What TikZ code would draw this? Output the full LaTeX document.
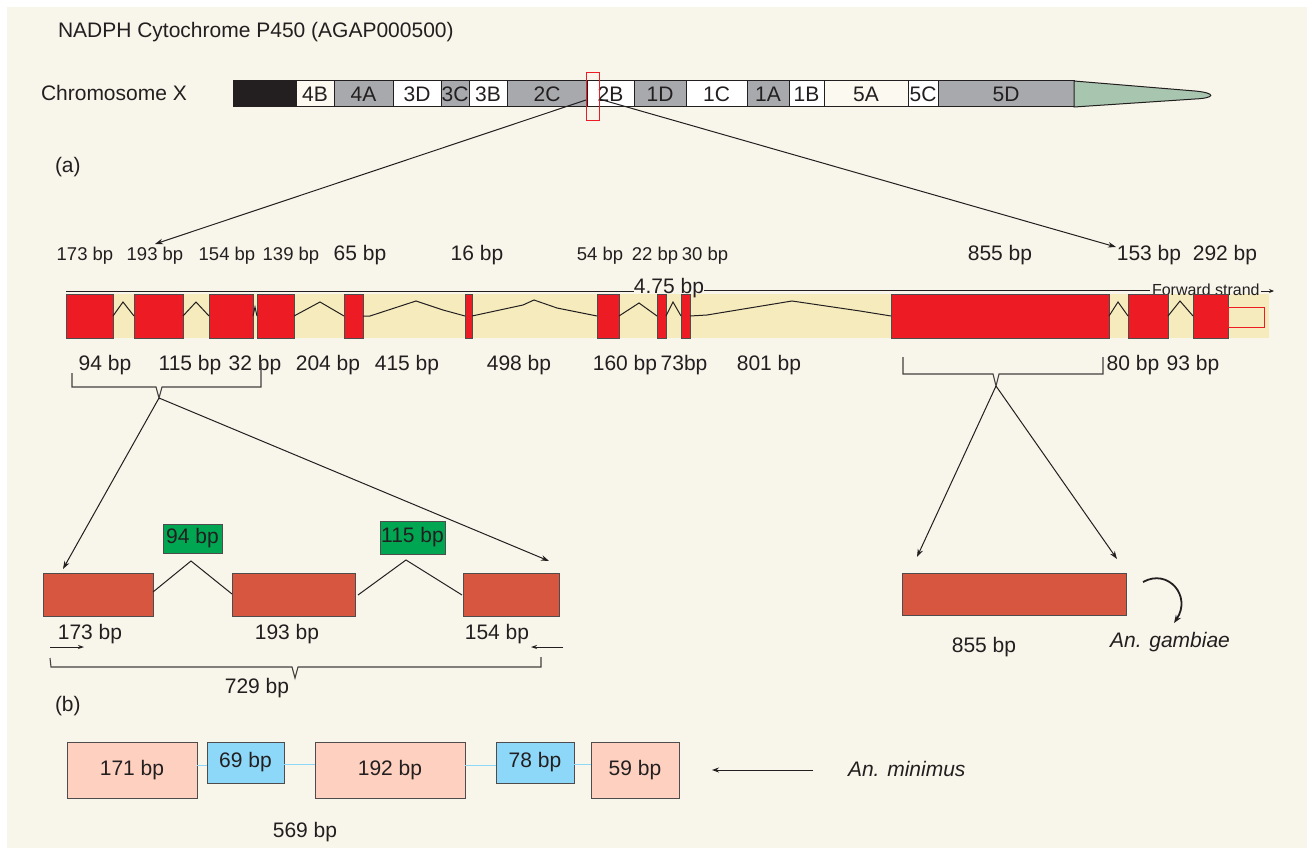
\documentclass[tikz,border=0pt]{standalone}
\usepackage{fontspec}
\setmainfont{Liberation Sans}
\usetikzlibrary{arrows.meta}
\definecolor{bgc}{HTML}{F8F5EA}
\definecolor{txt}{HTML}{231F20}
\definecolor{linec}{HTML}{231F20}
\definecolor{bandbg}{HTML}{F5EBBD}
\definecolor{exred}{HTML}{ED1C24}
\definecolor{exbrown}{HTML}{D65640}
\definecolor{exgreen}{HTML}{00A651}
\definecolor{pinkb}{HTML}{FDD0BF}
\definecolor{blueb}{HTML}{8DD8F8}
\definecolor{greyb}{HTML}{A7A9AC}
\definecolor{creamb}{HTML}{FBF9F0}
\definecolor{tailc}{HTML}{A8C5B0}
\newcommand{\gbox}[7]{%
  \node[#6, minimum width={(#4-#2)*1pt}, minimum height={(#5-#3)*1pt}] (#1) at ({(#2+#4)/2},{(#3+#5)/2}) {#7};}
\begin{document}
\begin{tikzpicture}[x=1pt,y=-1pt,
  every node/.style={font=\fontsize{21}{25}\selectfont, text=txt, inner sep=0pt, outer sep=0pt},
  sm/.style={font=\fontsize{18.5}{22}\selectfont},
  band/.style={draw=linec, line width=1pt, rectangle},
  exon/.style={draw=linec!80, line width=0.9pt, fill=exred, rectangle},
  bexon/.style={draw=linec!80, line width=0.9pt, fill=exbrown, rectangle},
  gbx/.style={draw=linec!80, line width=0.9pt, fill=exgreen, rectangle},
  pbx/.style={draw=linec!80, line width=0.9pt, fill=pinkb, rectangle},
  bbx/.style={draw=linec!80, line width=0.9pt, fill=blueb, rectangle},
  intr/.style={draw=linec, line width=1pt},
  brk/.style={draw=linec!85, line width=1.1pt},
  arr/.style={draw=linec, line width=1pt, -{Stealth[length=8pt,width=5.5pt]}},
  bl/.style={draw=blueb, line width=1pt}]
\useasboundingbox (0,0) rectangle (1307,848);
\fill[white] (0,0) rectangle (1307,848);
\fill[bgc] (7,7) rectangle (1307,848);

% title and chromosome
\node[anchor=base west] (title) at (58,38) {NADPH Cytochrome P450 (AGAP000500)};
\node[anchor=base west] (chrx) at (41,101) {Chromosome X};
\foreach \a/\b/\l/\c [count=\i] in {233/296//linec, 296/334/4B/creamb, 334/393/4A/greyb, 393/441/3D/white, 441/469/3C/greyb, 469/507/3B/white, 507/587/2C/greyb, 587/634/2B/white, 634/686/1D/greyb, 686/747/1C/white, 747/789/1A/greyb, 789/824/1B/white, 824/908/5A/creamb, 908/938/5C/white, 938/1074/5D/greyb}
  {\gbox{band\i}{\a}{81}{\b}{107}{band,fill=\c}{\l}}
\draw[linec, line width=1pt, fill=tailc] (1074,81) -- (1195,91) .. controls (1216,93) and (1216,98) .. (1195,99) -- (1074,107) -- cycle;
\gbox{sel}{586}{73}{599}{121}{draw=exred, line width=1pt}{}
\coordinate (selL) at (586,100);
\coordinate (selR) at (599,99);
\coordinate (tipL) at (155,244);
\coordinate (tipR) at (1116,247);
\draw[arr] (selL) -- (tipL);
\draw[arr] (selR) -- (tipR);

\node[anchor=base west] (la) at (55,172) {(a)};

% top labels
\foreach \x/\l/\s [count=\i] in {85/173 bp/sm, 155/193 bp/sm, 227/154 bp/sm, 291/139 bp/sm, 360/65 bp/, 477/16 bp/, 600/54 bp/sm, 655/22 bp/sm, 705/30 bp/sm, 1000/855 bp/, 1149/153 bp/, 1225/292 bp/}
  {\node[anchor=base,\s] (tl\i) at (\x,260) {\l};}

% gene track
\fill[bandbg] (66,294) rectangle (1269,338);
\draw[linec, line width=1pt] (66,291) -- (634,291);
\draw[linec, line width=1pt] (704,290) -- (1150,290);
\node[anchor=base] (len) at (669,293) {4.75 bp};
\node[anchor=base west, font=\fontsize{16}{19}\selectfont] (fwd) at (1152,295) {Forward strand};
\coordinate (fwdA) at (1261,291);
\coordinate (fwdB) at (1274,291);
\draw[draw=linec, line width=0.9pt, -{Stealth[length=5pt,width=4pt]}] (fwdA) -- (fwdB);

\foreach \a/\b [count=\i] in {66/113, 134/183, 209/253, 257/294, 344/363, 465/472, 597/619, 657/666, 681/690, 891/1109, 1128/1168, 1193/1228}
  {\gbox{e\i}{\a}{294}{\b}{338}{exon}{}}
\gbox{utr}{1228}{307}{1264}{327}{draw=exred, line width=1pt}{}

\draw[intr] (e1.east) -- (123,302) -- (e2.west);
\draw[intr] (e2.east) -- (196,302) -- (e3.west);
\draw[intr] (e3.east) -- (255,307) -- (e4.west);
\draw[intr] (e4.east) -- (320,302) -- (e5.west);
\draw[intr] (e5.east) -- (370,316) -- (416,301) -- (443,310) -- (e6.west);
\draw[intr] (e6.east) -- (523,305) -- (534,300) -- (557,308) -- (e7.west);
\draw[intr] (e7.east) -- (639,303) -- (e8.west);
\draw[intr] (e8.east) -- (673,302) -- (e9.west);
\draw[intr] (e9.east) -- (707,315) -- (792,301) -- (860,311) -- (e10.west);
\draw[intr] (e10.east) -- (1118,302) -- (e11.west);
\draw[intr] (e11.east) -- (1180,301) -- (e12.west);

% bottom labels
\foreach \x/\l [count=\i] in {105/94 bp, 190/115 bp, 255/32 bp, 328/204 bp, 407/415 bp, 519/498 bp, 625/160 bp, 684/73bp, 769/801 bp, 1133/80 bp, 1193/93 bp}
  {\node[anchor=base] (bl\i) at (\x,370) {\l};}

% brackets
\draw[brk] (72,373) -- (72,387) -- (156,387) -- (159,398) -- (162,387) -- (261,387) -- (261,363);
\draw[brk] (903,357) -- (903,374) -- (993,374) -- (996,386) -- (999,374) -- (1103,374) -- (1103,357);
\coordinate (lbt) at (159,398);
\coordinate (rbt) at (996,386);
\coordinate (lA) at (63,569);
\coordinate (lB) at (549,561);
\coordinate (rA) at (917,557);
\coordinate (rB) at (1117,559);
\draw[arr] (lbt) -- (lA);
\draw[arr] (lbt) -- (lB);
\draw[arr] (rbt) -- (rA);
\draw[arr] (rbt) -- (rB);

% (b) detail: An. gambiae exons
\gbox{x1}{43}{573}{153}{616}{bexon}{}
\gbox{x2}{232}{573}{355}{616}{bexon}{}
\gbox{x3}{463}{573}{559}{616}{bexon}{}
\gbox{g1}{163}{524}{222}{553}{gbx}{94 bp}
\gbox{g2}{380}{521}{445}{554}{gbx}{115 bp}
\draw[intr] (153,592) -- (191,561) -- (232,594);
\draw[intr] (358,595) -- (406,560) -- (462,595);
\node[anchor=base] (x1l) at (90,639) {173 bp};
\node[anchor=base] (x2l) at (287,639) {193 bp};
\node[anchor=base] (x3l) at (497,639) {154 bp};
\coordinate (pfA) at (50,647);
\coordinate (pfB) at (84,647);
\coordinate (prA) at (563,647);
\coordinate (prB) at (531,647);
\draw[draw=linec, line width=0.9pt, -{Stealth[length=6pt,width=4pt]}] (pfA) -- (pfB);
\draw[draw=linec, line width=0.9pt, -{Stealth[length=6pt,width=4pt]}] (prA) -- (prB);
\draw[brk] (50,658) -- (51,667) -- (292,667) -- (295,678) -- (298,667) -- (541,667) -- (541,657);
\node[anchor=base] (tot) at (257,693) {729 bp};

\gbox{big}{902}{573}{1126}{615}{bexon}{}
\node[anchor=base] (bigl) at (984,652) {855 bp};
\coordinate (cA) at (1143,582);
\coordinate (cB) at (1174,623);
\draw[draw=linec, line width=1.8pt, -{Stealth[length=8pt,width=6pt]}] (cA) .. controls (1168,568) and (1192,596) .. (cB);
\node[anchor=base, font=\fontsize{21}{25}\selectfont\itshape] (gam) at (1170,647) {An. gambiae};

\node[anchor=base west] (lb) at (55,711) {(b)};

% An. minimus
\gbox{m1}{67}{742}{197}{798}{pbx}{171 bp}
\gbox{m2}{207}{742}{284}{783}{bbx}{69 bp}
\gbox{m3}{315}{742}{465}{798}{pbx}{192 bp}
\gbox{m4}{496}{742}{574}{783}{bbx}{78 bp}
\gbox{m5}{591}{742}{679}{798}{pbx}{\raisebox{-4pt}{59 bp}}
\draw[bl] (m1.east |- 0,765) -- (m2.west |- 0,765);
\draw[bl] (m2.east |- 0,764) -- (m3.west |- 0,764);
\draw[bl] (m3.east |- 0,765) -- (m4.west |- 0,765);
\draw[bl] (m4.east |- 0,764) -- (m5.west |- 0,764);
\node[anchor=base] (mtot) at (305,837) {569 bp};
\coordinate (mA) at (813,770);
\coordinate (mB) at (712,770);
\draw[draw=linec, line width=1pt, -{Stealth[length=7pt,width=5pt]}] (mA) -- (mB);
\node[anchor=base west, font=\fontsize{21}{25}\selectfont\itshape] (minl) at (848,776) {An. minimus};
\end{tikzpicture}
\end{document}
